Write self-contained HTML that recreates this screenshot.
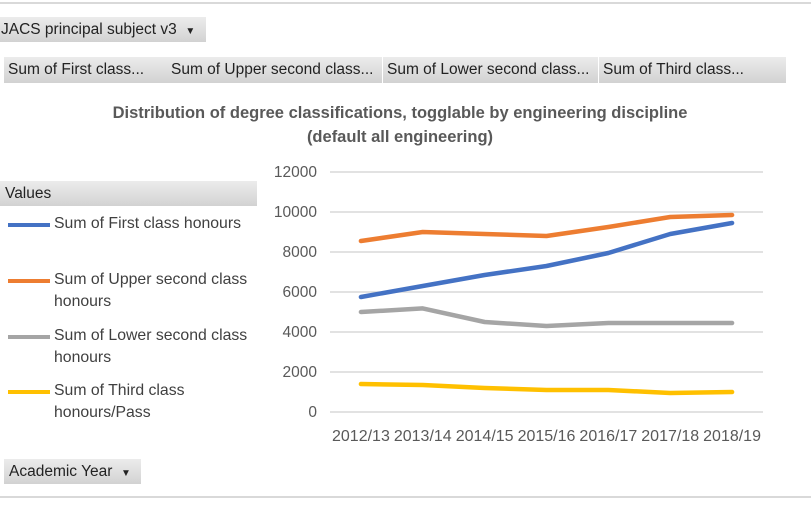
<!DOCTYPE html>
<html><head><meta charset="utf-8"><style>
body{margin:0;width:811px;height:507px;background:#fff;font-family:"Liberation Sans",sans-serif;position:relative;overflow:hidden;color:#222}
.btn{position:absolute;background:linear-gradient(#ececec,#d2d2d2);font-size:15.5px;line-height:25px;white-space:nowrap;overflow:hidden}
.hl{position:absolute;left:0;width:811px;height:2px;background:#d9d9d9}
.leg{position:absolute;left:8px;font-size:15.8px;color:#404040;line-height:22px}
.sw{position:absolute;left:8px;width:42px;height:4px}
</style></head><body>
<div class="hl" style="top:2px"></div>
<div class="hl" style="top:496px"></div>
<div class="btn" style="left:0;top:17px;width:205px;height:25px;padding-left:1px">JACS principal subject v3 &nbsp;<span style="font-size:10px">▼</span></div>
<div class="btn" style="left:4px;top:57px;width:159px;height:26px;padding-left:4px">Sum of First class...</div>
<div class="btn" style="left:167px;top:57px;width:211px;height:26px;padding-left:4px">Sum of Upper second class...</div>
<div class="btn" style="left:383px;top:57px;width:211px;height:26px;padding-left:4px">Sum of Lower second class...</div>
<div class="btn" style="left:599px;top:57px;width:183px;height:26px;padding-left:4px">Sum of Third class...</div>
<div style="position:absolute;left:0;width:800px;top:101px;text-align:center;font-weight:bold;font-size:16.5px;color:#595959;line-height:24px">Distribution of degree classifications, togglable by engineering discipline<br>(default all engineering)</div>
<div class="btn" style="left:0;top:181px;width:252px;padding-left:5px">Values</div>
<div class="sw" style="top:223px;background:#4472c4"></div>
<div class="leg" style="top:213px;left:54px">Sum of First class honours</div>
<div class="sw" style="top:279px;background:#ed7d31"></div>
<div class="leg" style="top:269px;left:54px">Sum of Upper second class<br>honours</div>
<div class="sw" style="top:335px;background:#a5a5a5"></div>
<div class="leg" style="top:325px;left:54px">Sum of Lower second class<br>honours</div>
<div class="sw" style="top:390px;background:#ffc000"></div>
<div class="leg" style="top:380px;left:54px">Sum of Third class<br>honours/Pass</div>
<div class="btn" style="left:4px;top:459px;width:132px;height:25px;padding-left:5px">Academic Year &nbsp;<span style="font-size:10px">▼</span></div>
<svg id="chart" width="811" height="507" style="position:absolute;left:0;top:0"></svg>
<script>
const categories=["2012/13","2013/14","2014/15","2015/16","2016/17","2017/18","2018/19"];
const firstClass=[5750,6300,6850,7300,7950,8900,9450];
const upperSecond=[8550,9000,8900,8800,9250,9750,9850];
const lowerSecond=[5000,5180,4500,4300,4450,4450,4450];
const thirdClass=[1400,1350,1200,1100,1100,950,1000];
const yTicks=[0,2000,4000,6000,8000,10000,12000];
const NS="http://www.w3.org/2000/svg",svg=document.getElementById('chart');
const x0=330,x1=763,yB=412,yT=172,yMax=12000;
const bw=(x1-x0)/categories.length;
const xs=i=>x0+bw*(i+0.5), ys=v=>yB-(v/yMax)*(yB-yT);
function mk(t,a){const e=document.createElementNS(NS,t);for(const k in a)e.setAttribute(k,a[k]);svg.appendChild(e);return e;}
yTicks.forEach(v=>{
 const g=mk('line',{x1:x0,x2:x1,y1:ys(v),y2:ys(v),stroke:'#d9d9d9','stroke-width':1.5});
 
 
 const t=mk('text',{x:317,y:ys(v)+5,'text-anchor':'end','font-size':15.5,fill:'#595959','font-family':'Liberation Sans, sans-serif'});
 t.textContent=v;
 
 
});
categories.forEach((c,i)=>{
 const t=mk('text',{x:xs(i),y:441,'text-anchor':'middle','font-size':16,fill:'#595959','font-family':'Liberation Sans, sans-serif'});
 t.textContent=c;
 
 
});
[[firstClass,'#4472c4','series-first-class'],[upperSecond,'#ed7d31','series-upper-second'],[lowerSecond,'#a5a5a5','series-lower-second'],[thirdClass,'#ffc000','series-third-class']].forEach(([d,c,n])=>{
 const p=mk('polyline',{points:d.map((v,i)=>xs(i)+','+ys(v)).join(' '),fill:'none',stroke:c,'stroke-width':4.5,'stroke-linecap':'round','stroke-linejoin':'round'});
 
 
});
</script>
</body></html>
